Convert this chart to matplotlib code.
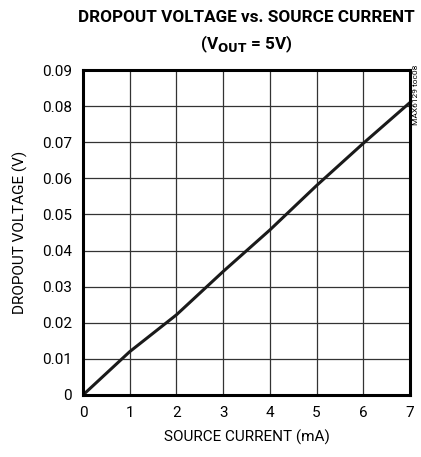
import matplotlib
matplotlib.use("Agg")
import matplotlib.pyplot as plt
from matplotlib import font_manager

current_ma = [0, 1, 2, 3, 4, 5, 6, 7]
dropout_v = [0.0, 0.012, 0.0222, 0.0342, 0.0457, 0.058, 0.0697, 0.081]
x_ticks = [0, 1, 2, 3, 4, 5, 6, 7]
y_ticks = [0, 0.01, 0.02, 0.03, 0.04, 0.05, 0.06, 0.07, 0.08, 0.09]
y_tick_labels = ["0", "0.01", "0.02", "0.03", "0.04", "0.05", "0.06", "0.07", "0.08", "0.09"]

names = {f.name for f in font_manager.fontManager.ttflist}
fam = ["Liberation Sans Narrow"] if "Liberation Sans Narrow" in names else ["Roboto"]
plt.rcParams['font.family'] = fam + ["DejaVu Sans"]

fig = plt.figure(figsize=(4.21, 4.57), dpi=100)
ax = fig.add_axes([83/421, 1-395/457, (410-83)/421, (395-70)/457])

ax.plot(current_ma, dropout_v, color="#1a1a1a", lw=2.2, solid_capstyle="butt")
ax.set_xlim(0, 7)
ax.set_ylim(0, 0.09)
ax.set_xticks(x_ticks)
ax.set_yticks(y_ticks)
ax.set_yticklabels(y_tick_labels)
ax.tick_params(length=0, labelsize=11, pad=8)
ax.grid(True, color="#333333", lw=0.9)
for s in ax.spines.values():
    s.set_linewidth(2.2)
    s.set_color("black")
ax.set_xlabel("SOURCE CURRENT (mA)", fontsize=11, labelpad=7)
ax.set_ylabel("DROPOUT VOLTAGE (V)", fontsize=11, labelpad=10)

cx = (83 + 410) / 2 / 421
fig.text(cx, 1-18/457, "DROPOUT VOLTAGE vs. SOURCE CURRENT", ha="center", va="center",
         fontsize=12.3, fontweight="bold")
fig.text(cx, 1-44/457, r"(V$_{\mathbf{OUT}}$ = 5V)", ha="center", va="center",
         fontsize=12.3, fontweight="bold")
fig.text(416/421, 1-65/457, "MAX6129 toc08", rotation=90, ha="center", va="top", fontsize=6)

fig.savefig("out.png", dpi=100)
